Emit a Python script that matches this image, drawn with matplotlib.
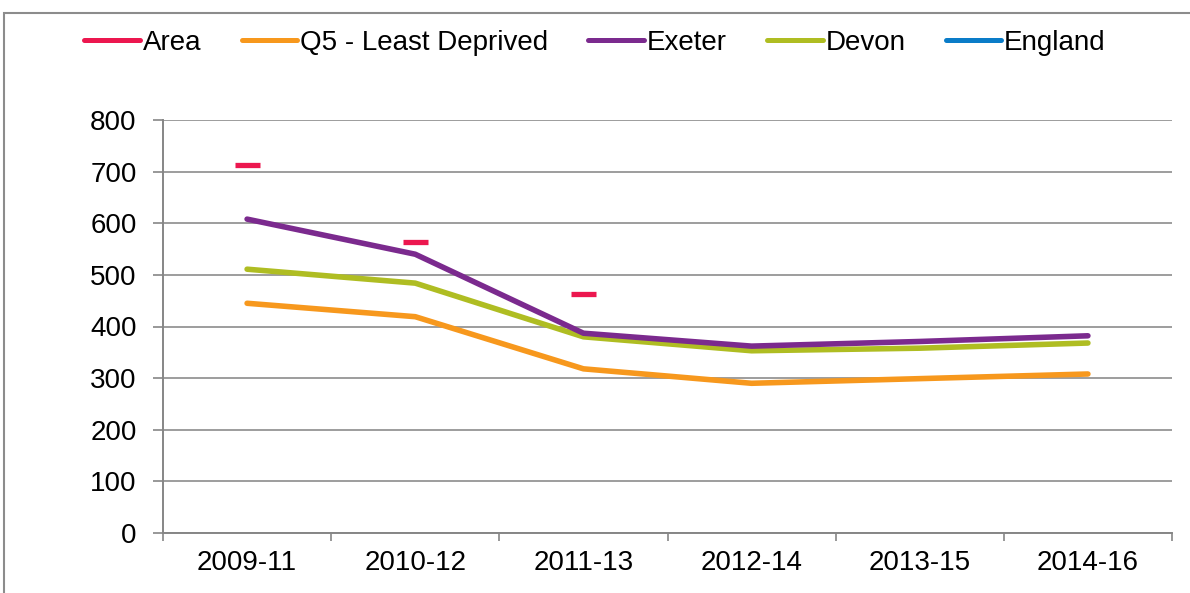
import numpy as np
import matplotlib.pyplot as plt
from matplotlib.lines import Line2D
from matplotlib.patches import Rectangle

plt.rcParams['font.family'] = ['Liberation Sans', 'DejaVu Sans']

periods = ['2009-11', '2010-12', '2011-13', '2012-14', '2013-15', '2014-16']
area = [713, 564, 463, None, None, None]
q5_least_deprived = [445, 419, 318, 290, 299, 308]
exeter = [608, 540, 387, 362, 371, 382]
devon = [511, 484, 380, 353, 358, 368]
england = [None, None, None, None, None, None]

colors = {
    'Area': '#EC174F',
    'Q5 - Least Deprived': '#F7981D',
    'Exeter': '#7B2A8E',
    'Devon': '#AFBD22',
    'England': '#0A7CC8',
}

def to_arr(vals):
    return np.array([np.nan if v is None else v for v in vals], dtype=float)

fig = plt.figure(figsize=(11.9, 5.93), dpi=100)
ax = fig.add_axes([163 / 1190, 60 / 593, (1172 - 163) / 1190, (533 - 120) / 593])

# outer chart frame (runs off the right and bottom edges)
fig.patches.append(Rectangle((4 / 1190, -0.05), 1.1, (593 - 13) / 593 + 0.05,
                             transform=fig.transFigure, fill=False,
                             edgecolor='#8c8c8c', linewidth=1.5))

x = np.arange(len(periods))
lw = 4.0
fs = 20
ax.plot(x, to_arr(q5_least_deprived), color=colors['Q5 - Least Deprived'], lw=lw,
        solid_capstyle='round', zorder=3)
ax.plot(x, to_arr(exeter), color=colors['Exeter'], lw=lw, solid_capstyle='round', zorder=4)
ax.plot(x, to_arr(devon), color=colors['Devon'], lw=lw, solid_capstyle='round', zorder=3)
ax.plot(x, to_arr(england), color=colors['England'], lw=lw, zorder=3)
ax.plot(x, to_arr(area), linestyle='none', marker='_', markersize=18,
        markeredgewidth=3.8, color=colors['Area'], zorder=5)

ax.set_xlim(-0.5, len(periods) - 0.5)
ax.set_ylim(0, 800)
ax.set_yticks(np.arange(0, 801, 100))
ax.set_xticks(x)
ax.set_xticklabels(periods)
ax.set_xticks(np.arange(-0.5, len(periods)), minor=True)
ax.tick_params(axis='x', which='major', length=0, pad=12, labelsize=fs)
ax.tick_params(axis='x', which='minor', length=6, direction='out', color='#868686', width=1.2)
ax.tick_params(axis='y', length=7, direction='out', color='#868686', width=1.2,
               labelsize=fs, pad=12)

ax.grid(axis='y', color='#8c8c8c', linewidth=1.2)
ax.set_axisbelow(True)
for side in ['top', 'right']:
    ax.spines[side].set_visible(False)
for side in ['left', 'bottom']:
    ax.spines[side].set_color('#868686')
    ax.spines[side].set_linewidth(1.4)

handles = [Line2D([0], [0], color=c, lw=3.6, solid_capstyle='round') for c in colors.values()]
fig.legend(handles, list(colors.keys()), loc='center', bbox_to_anchor=(0.5, 1 - 43 / 593),
           ncol=5, frameon=False, fontsize=fs, handlelength=2.0,
           handletextpad=0.1, columnspacing=1.45)

fig.savefig('out.png', dpi=100)
